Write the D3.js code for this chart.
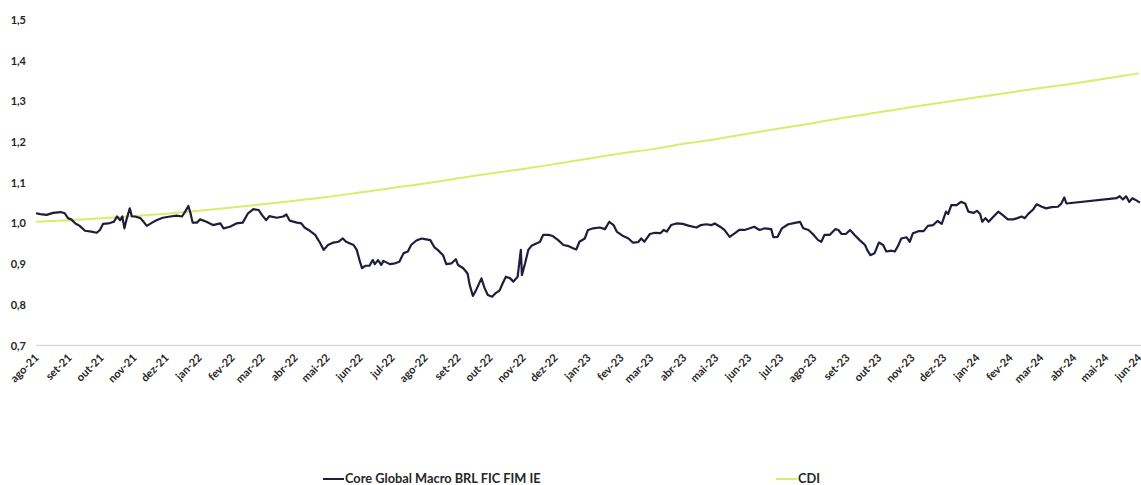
<!DOCTYPE html>
<html>
<head>
<meta charset="utf-8">
<script src="https://cdn.jsdelivr.net/npm/d3@7"></script>
<style>
  body { margin: 0; background: #fff; }
  svg { display: block; font-family: Lato, "Open Sans", sans-serif; }
</style>
</head>
<body>
<div id="chart"></div>
<script>
// Données
const startDate = new Date(2021, 7, 1);

// Core Global Macro: jours depuis le 01/08/2021 et valeur de la cota
const fundDays = [0, 4, 10, 16, 23, 27, 30, 33, 37, 41, 46, 52, 57, 60, 63, 68, 73, 76, 79, 81, 83, 85, 88, 90, 93, 98, 101, 104, 109, 113, 119, 126, 132, 137, 140, 143, 145, 147, 151, 154, 160, 166, 173, 176, 182, 188, 194, 199, 204, 209, 212, 216, 219, 226, 232, 235, 238, 245, 249, 252, 257, 262, 265, 266, 270, 274, 279, 284, 288, 291, 298, 301, 304, 306, 309, 313, 316, 318, 321, 324, 326, 332, 337, 341, 345, 349, 352, 357, 362, 366, 370, 374, 377, 382, 385, 390, 394, 396, 401, 405, 407, 410, 413, 418, 421, 424, 428, 431, 435, 438, 441, 445, 448, 452, 455, 456, 459, 462, 465, 470, 473, 476, 481, 485, 490, 495, 499, 504, 507, 510, 515, 518, 523, 529, 534, 538, 542, 545, 551, 556, 560, 565, 568, 571, 576, 581, 586, 589, 592, 596, 601, 607, 613, 620, 624, 629, 634, 637, 642, 646, 651, 656, 660, 665, 670, 674, 679, 684, 690, 692, 696, 700, 706, 710, 717, 720, 725, 729, 734, 737, 740, 745, 750, 753, 756, 760, 764, 768, 773, 778, 780, 783, 787, 791, 795, 798, 803, 806, 809, 812, 817, 820, 823, 828, 833, 837, 842, 846, 850, 854, 856, 859, 864, 868, 872, 875, 880, 883, 886, 888, 891, 894, 898, 903, 907, 912, 917, 921, 925, 928, 931, 936, 939, 944, 948, 953, 959, 962, 965, 967, 1014, 1017, 1020, 1023, 1026, 1029, 1033, 1036];
const fundValues = [1.025, 1.023, 1.021, 1.026, 1.028, 1.025, 1.013, 1.010, 1.000, 0.994, 0.982, 0.980, 0.977, 0.984, 0.999, 1.000, 1.004, 1.017, 1.008, 1.017, 0.988, 1.010, 1.037, 1.017, 1.017, 1.013, 1.004, 0.994, 1.002, 1.008, 1.014, 1.017, 1.019, 1.017, 1.029, 1.043, 1.025, 1.002, 1.002, 1.010, 1.004, 0.996, 1.000, 0.988, 0.992, 1.000, 1.002, 1.025, 1.035, 1.033, 1.021, 1.008, 1.018, 1.014, 1.017, 1.022, 1.007, 1.002, 1.000, 0.990, 0.982, 0.972, 0.959, 0.955, 0.935, 0.947, 0.953, 0.955, 0.963, 0.955, 0.947, 0.935, 0.906, 0.890, 0.896, 0.896, 0.910, 0.900, 0.910, 0.898, 0.908, 0.900, 0.902, 0.906, 0.927, 0.931, 0.947, 0.958, 0.963, 0.961, 0.959, 0.941, 0.935, 0.922, 0.900, 0.902, 0.912, 0.898, 0.890, 0.877, 0.849, 0.822, 0.836, 0.865, 0.841, 0.824, 0.820, 0.828, 0.835, 0.853, 0.869, 0.865, 0.857, 0.869, 0.935, 0.873, 0.902, 0.935, 0.945, 0.951, 0.955, 0.972, 0.972, 0.969, 0.959, 0.947, 0.945, 0.939, 0.936, 0.955, 0.963, 0.984, 0.988, 0.990, 0.986, 1.004, 0.996, 0.980, 0.969, 0.963, 0.953, 0.954, 0.963, 0.955, 0.974, 0.977, 0.976, 0.984, 0.980, 0.996, 1.000, 0.999, 0.994, 0.990, 0.996, 0.998, 0.996, 1.000, 0.992, 0.984, 0.967, 0.976, 0.984, 0.984, 0.988, 0.992, 0.984, 0.988, 0.986, 0.966, 0.967, 0.988, 0.998, 1.000, 1.004, 0.988, 0.984, 0.974, 0.959, 0.955, 0.972, 0.972, 0.986, 0.984, 0.974, 0.974, 0.984, 0.972, 0.959, 0.947, 0.935, 0.922, 0.927, 0.953, 0.947, 0.931, 0.933, 0.931, 0.945, 0.963, 0.966, 0.955, 0.976, 0.981, 0.981, 0.994, 0.996, 1.006, 0.999, 1.029, 1.023, 1.045, 1.045, 1.053, 1.049, 1.029, 1.026, 1.031, 1.023, 1.004, 1.013, 1.004, 1.015, 1.029, 1.021, 1.010, 1.010, 1.013, 1.017, 1.013, 1.023, 1.035, 1.047, 1.041, 1.037, 1.040, 1.041, 1.048, 1.064, 1.049, 1.062, 1.067, 1.059, 1.067, 1.053, 1.062, 1.056, 1.051];

// CDI acumulado, début de chaque mois
const months = ["ago-21", "set-21", "out-21", "nov-21", "dez-21",
  "jan-22", "fev-22", "mar-22", "abr-22", "mai-22", "jun-22", "jul-22", "ago-22", "set-22", "out-22", "nov-22", "dez-22",
  "jan-23", "fev-23", "mar-23", "abr-23", "mai-23", "jun-23", "jul-23", "ago-23", "set-23", "out-23", "nov-23", "dez-23",
  "jan-24", "fev-24", "mar-24", "abr-24", "mai-24", "jun-24"];
const cdiValues = [1.004, 1.008, 1.013, 1.018, 1.024,
  1.031, 1.039, 1.047, 1.056, 1.065, 1.076, 1.087, 1.098, 1.111, 1.123, 1.134, 1.146,
  1.159, 1.172, 1.182, 1.196, 1.207, 1.221, 1.234, 1.247, 1.261, 1.273, 1.286, 1.298,
  1.310, 1.322, 1.333, 1.344, 1.356, 1.369];

const yTicks = [0.7, 0.8, 0.9, 1.0, 1.1, 1.2, 1.3, 1.4, 1.5];

const seriesNames = ["Core Global Macro BRL FIC FIM IE", "CDI"];
const colors = ["#1e1e3c", "#d9ec6c"];

// Dimensions
const width = 1141;
const height = 485;
const margin = { top: 20, right: 0, bottom: 140, left: 36 };

const monthDates = months.map((m, i) => d3.timeMonth.offset(startDate, i));
const fund = fundDays.map((d, i) => ({ date: d3.timeDay.offset(startDate, d), value: fundValues[i] }));
const cdi = monthDates.map((d, i) => ({ date: d, value: cdiValues[i] }));

// Échelles
const x = d3.scaleTime()
  .domain([startDate, d3.timeDay.offset(startDate, 1037)])
  .range([margin.left, width - margin.right]);

const y = d3.scaleLinear()
  .domain([0.7, 1.5])
  .range([345.5, 20]);

const svg = d3.select("#chart").append("svg")
  .attr("width", width)
  .attr("height", height)
  .attr("viewBox", [0, 0, width, height]);

// Axe Y (labels seulement)
const yAxis = svg.append("g")
  .attr("transform", `translate(${margin.left},0)`)
  .call(d3.axisLeft(y).tickValues(yTicks).tickSize(0).tickPadding(10)
    .tickFormat(d => d3.format(".1f")(d).replace(".", ",")));
yAxis.select(".domain").remove();
yAxis.selectAll("text")
  .attr("font-family", "Lato, sans-serif")
  .attr("font-size", 11)
  .attr("font-weight", "bold")
  .attr("fill", "#262626");

// Ligne de base
svg.append("line")
  .attr("x1", margin.left)
  .attr("x2", width)
  .attr("y1", y(0.7))
  .attr("y2", y(0.7))
  .attr("stroke", "#d9d9d9")
  .attr("stroke-width", 1.3);

// Axe X (mois)
const xAxis = svg.append("g")
  .attr("transform", `translate(0,${y(0.7)})`)
  .call(d3.axisBottom(x).tickValues(monthDates).tickSize(0)
    .tickFormat((d, i) => months[i]));
xAxis.select(".domain").remove();
xAxis.selectAll("text")
  .attr("font-family", "Lato, sans-serif")
  .attr("font-size", 11)
  .attr("font-weight", "bold")
  .attr("fill", "#262626")
  .attr("text-anchor", "end")
  .attr("dy", null)
  .attr("y", null)
  .attr("transform", "translate(3,13) rotate(-45)");

// Lignes
const line = d3.line()
  .x(d => x(d.date))
  .y(d => y(d.value));

svg.append("path")
  .datum(cdi)
  .attr("fill", "none")
  .attr("stroke", colors[1])
  .attr("stroke-width", 2)
  .attr("d", line.curve(d3.curveMonotoneX));

svg.append("path")
  .datum(fund)
  .attr("fill", "none")
  .attr("stroke", colors[0])
  .attr("stroke-width", 2.2)
  .attr("stroke-linejoin", "round")
  .attr("d", line.curve(d3.curveLinear));

// Légende
const legendX = [323, 776];
const legend = svg.append("g")
  .selectAll("g")
  .data(seriesNames)
  .join("g")
  .attr("transform", (d, i) => `translate(${legendX[i]},479)`);

legend.append("line")
  .attr("x1", 0)
  .attr("x2", 21)
  .attr("stroke", (d, i) => colors[i])
  .attr("stroke-width", 2);

legend.append("text")
  .attr("x", 22)
  .attr("dy", "0.35em")
  .attr("font-family", "Lato, sans-serif")
  .attr("font-size", 12.8)
  .attr("font-weight", "bold")
  .attr("fill", "#262626")
  .text(d => d);
</script>
</body>
</html>
